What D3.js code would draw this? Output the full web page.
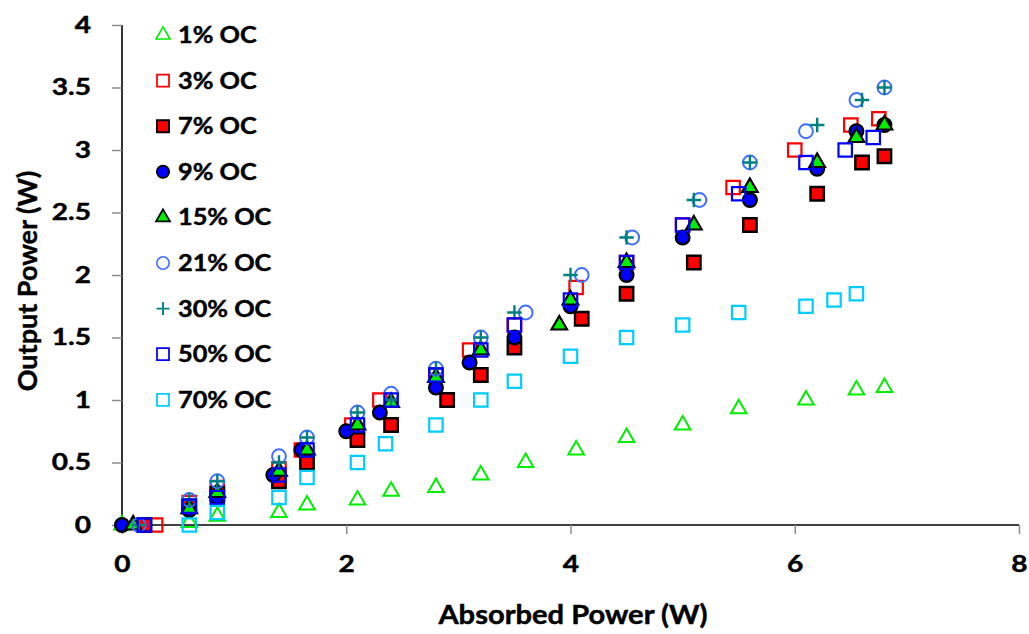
<!DOCTYPE html>
<html>
<head>
<meta charset="utf-8">
<script src="https://cdn.jsdelivr.net/npm/d3@7"></script>
<style>
  html, body { margin: 0; padding: 0; background: #fff; }
  svg { display: block; font-family: Lato, "Open Sans", sans-serif; font-weight: bold; }
  text { fill: #000; stroke: #000; stroke-width: 0.45px; }
</style>
</head>
<body>
<svg id="chart" width="1029" height="634"></svg>
<script>
// Output power vs absorbed power for each output coupler (OC) transmission
const seriesNames = ["1% OC", "3% OC", "7% OC", "9% OC", "15% OC", "21% OC", "30% OC", "50% OC", "70% OC"];

const oc1 = [[0,0],[0.6,0.02],[0.85,0.07],[1.4,0.1],[1.65,0.16],[2.1,0.2],[2.4,0.27],[2.8,0.3],[3.2,0.4],[3.6,0.5],[4.05,0.6],[4.5,0.7],[5.0,0.8],[5.5,0.93],[6.1,1.0],[6.55,1.08],[6.8,1.1]];
const oc3 = [[0.3,0],[0.6,0.18],[0.85,0.3],[1.4,0.45],[1.6,0.6],[2.05,0.8],[2.3,1.0],[2.8,1.2],[3.1,1.4],[3.5,1.6],[4.05,1.9],[4.5,2.1],[5.0,2.4],[5.45,2.7],[6.0,3.0],[6.5,3.2],[6.75,3.25]];
const oc7 = [[0.2,0],[0.6,0.15],[0.85,0.25],[1.4,0.35],[1.65,0.5],[2.1,0.68],[2.4,0.8],[2.9,1.0],[3.2,1.2],[3.5,1.42],[4.1,1.65],[4.5,1.85],[5.1,2.1],[5.6,2.4],[6.2,2.65],[6.6,2.9],[6.8,2.95]];
const oc9 = [[0,0],[0.6,0.12],[0.85,0.22],[1.35,0.4],[1.6,0.6],[2.0,0.75],[2.3,0.9],[2.8,1.1],[3.1,1.3],[3.5,1.5],[4.0,1.75],[4.5,2.0],[5.0,2.3],[5.6,2.6],[6.2,2.85],[6.55,3.15],[6.8,3.2]];
const oc15 = [[0.1,0],[0.6,0.13],[0.85,0.26],[1.4,0.43],[1.65,0.6],[2.1,0.8],[2.4,0.98],[2.8,1.18],[3.2,1.4],[3.9,1.6],[4.0,1.8],[4.5,2.1],[5.1,2.4],[5.6,2.7],[6.2,2.9],[6.55,3.1],[6.8,3.2]];
const oc21 = [[0.15,0],[0.6,0.2],[0.85,0.35],[1.4,0.55],[1.65,0.7],[2.1,0.9],[2.4,1.05],[2.8,1.25],[3.2,1.5],[3.6,1.7],[4.1,2.0],[4.55,2.3],[5.15,2.6],[5.6,2.9],[6.1,3.15],[6.55,3.4],[6.8,3.5]];
const oc30 = [[0.15,0],[0.6,0.2],[0.85,0.35],[1.4,0.5],[1.65,0.7],[2.1,0.9],[2.4,1.0],[2.8,1.25],[3.2,1.5],[3.5,1.7],[4.0,2.0],[4.5,2.3],[5.1,2.6],[5.6,2.9],[6.2,3.2],[6.6,3.4],[6.8,3.5]];
const oc50 = [[0.2,0],[0.6,0.15],[0.85,0.22],[1.4,0.4],[1.65,0.6],[2.1,0.8],[2.4,1.0],[2.8,1.2],[3.2,1.4],[3.5,1.6],[4.0,1.8],[4.5,2.1],[5.0,2.4],[5.5,2.65],[6.1,2.9],[6.45,3.0],[6.7,3.1]];
const oc70 = [[0.6,0],[0.85,0.1],[1.4,0.22],[1.65,0.38],[2.1,0.5],[2.35,0.65],[2.8,0.8],[3.2,1.0],[3.5,1.15],[4.0,1.35],[4.5,1.5],[5.0,1.6],[5.5,1.7],[6.1,1.75],[6.35,1.8],[6.55,1.85]];

const xTicks = [0, 2, 4, 6, 8];
const yTicks = [0, 0.5, 1, 1.5, 2, 2.5, 3, 3.5, 4];

// thin plus sign used for the 30% OC markers
const symbolPlus = {
  draw(context, size) {
    const r = Math.sqrt(size) / 2;
    context.moveTo(-r, 0); context.lineTo(r, 0);
    context.moveTo(0, -r); context.lineTo(0, r);
  }
};

const styles = [
  { data: oc1,  type: d3.symbolTriangle, size: 105, fill: "none",    stroke: "#00ee00", sw: 2 },
  { data: oc3,  type: d3.symbolSquare,   size: 180, fill: "none",    stroke: "#ff0000", sw: 2.2 },
  { data: oc7,  type: d3.symbolSquare,   size: 180, fill: "#ff0000", stroke: "#000",    sw: 2.4 },
  { data: oc9,  type: d3.symbolCircle,   size: 150, fill: "#0000ff", stroke: "#000",    sw: 2.2 },
  { data: oc15, type: d3.symbolTriangle, size: 105, fill: "#00ee00", stroke: "#000",    sw: 2.2 },
  { data: oc21, type: d3.symbolCircle,   size: 150, fill: "none",    stroke: "#3f6fff", sw: 2 },
  { data: oc30, type: symbolPlus,        size: 210, fill: "none",    stroke: "#008080", sw: 2.4 },
  { data: oc50, type: d3.symbolSquare,   size: 180, fill: "none",    stroke: "#0000ff", sw: 2.2 },
  { data: oc70, type: d3.symbolSquare,   size: 180, fill: "none",    stroke: "#00ccff", sw: 2.2 }
];

const svg = d3.select("#chart");
const margin = { left: 122, top: 25, right: 1019, bottom: 525 };

const x = d3.scaleLinear().domain([0, 8]).range([margin.left, margin.right]);
const y = d3.scaleLinear().domain([0, 4]).range([margin.bottom, margin.top]);

// widen a text selection horizontally, keeping its anchor point in place
function widen(sel, sx) {
  sel.each(function () {
    const t = d3.select(this);
    const x0 = +t.attr("x") || 0;
    t.attr("x", x0 / sx).attr("transform", `scale(${sx},1)`);
  });
}

// axes
const xAxis = svg.append("g").attr("transform", `translate(0,${margin.bottom})`)
  .call(d3.axisBottom(x).tickValues(xTicks).tickSize(9).tickPadding(22).tickFormat(d3.format("d")));
const yAxis = svg.append("g").attr("transform", `translate(${margin.left},0)`)
  .call(d3.axisLeft(y).tickValues(yTicks).tickSize(10).tickPadding(21).tickFormat(d => d));

[xAxis, yAxis].forEach(g => {
  g.select(".domain").attr("stroke", "#000").attr("stroke-width", 1.6);
  g.selectAll(".tick line").attr("stroke", "#8c8c8c").attr("stroke-width", 1.5);
  g.selectAll(".tick text").attr("fill", "#000").style("font-size", "23px")
    .style("font-family", "Lato, sans-serif").style("font-weight", "bold");
  widen(g.selectAll(".tick text"), 1.22);
});
xAxis.select(".domain").attr("d", `M${margin.left},0H${margin.right}`);
yAxis.select(".domain").attr("d", `M0,${margin.bottom}V${margin.top}`);

// axis titles
const xTitle = svg.append("text")
  .attr("x", 573).attr("y", 624)
  .attr("text-anchor", "middle")
  .style("font-size", "26px")
  .text("Absorbed Power (W)");
widen(xTitle, 1.12);
svg.append("g").attr("transform", "translate(37,281) rotate(-90)")
  .append("text")
  .attr("text-anchor", "middle")
  .style("font-size", "27px")
  .text("Output Power (W)");

// markers
const sym = d3.symbol();
styles.forEach(s => {
  svg.append("g").selectAll("path")
    .data(s.data)
    .join("path")
    .attr("transform", d => `translate(${x(d[0])},${y(d[1])})`)
    .attr("d", sym.type(s.type).size(s.size)())
    .attr("fill", s.fill)
    .attr("stroke", s.stroke)
    .attr("stroke-width", s.sw);
});

// legend
const legend = svg.append("g");
seriesNames.forEach((name, i) => {
  const s = styles[i];
  const cy = 35 + i * 45.6;
  legend.append("path")
    .attr("transform", `translate(163,${cy})`)
    .attr("d", d3.symbol().type(s.type).size(s.size * 0.8)())
    .attr("fill", s.fill)
    .attr("stroke", s.stroke)
    .attr("stroke-width", s.sw * 0.8);
  const t = legend.append("text")
    .attr("x", 178).attr("y", cy + 8)
    .style("font-size", "23px")
    .text(name);
  widen(t, 1.1);
});
</script>
</body>
</html>
